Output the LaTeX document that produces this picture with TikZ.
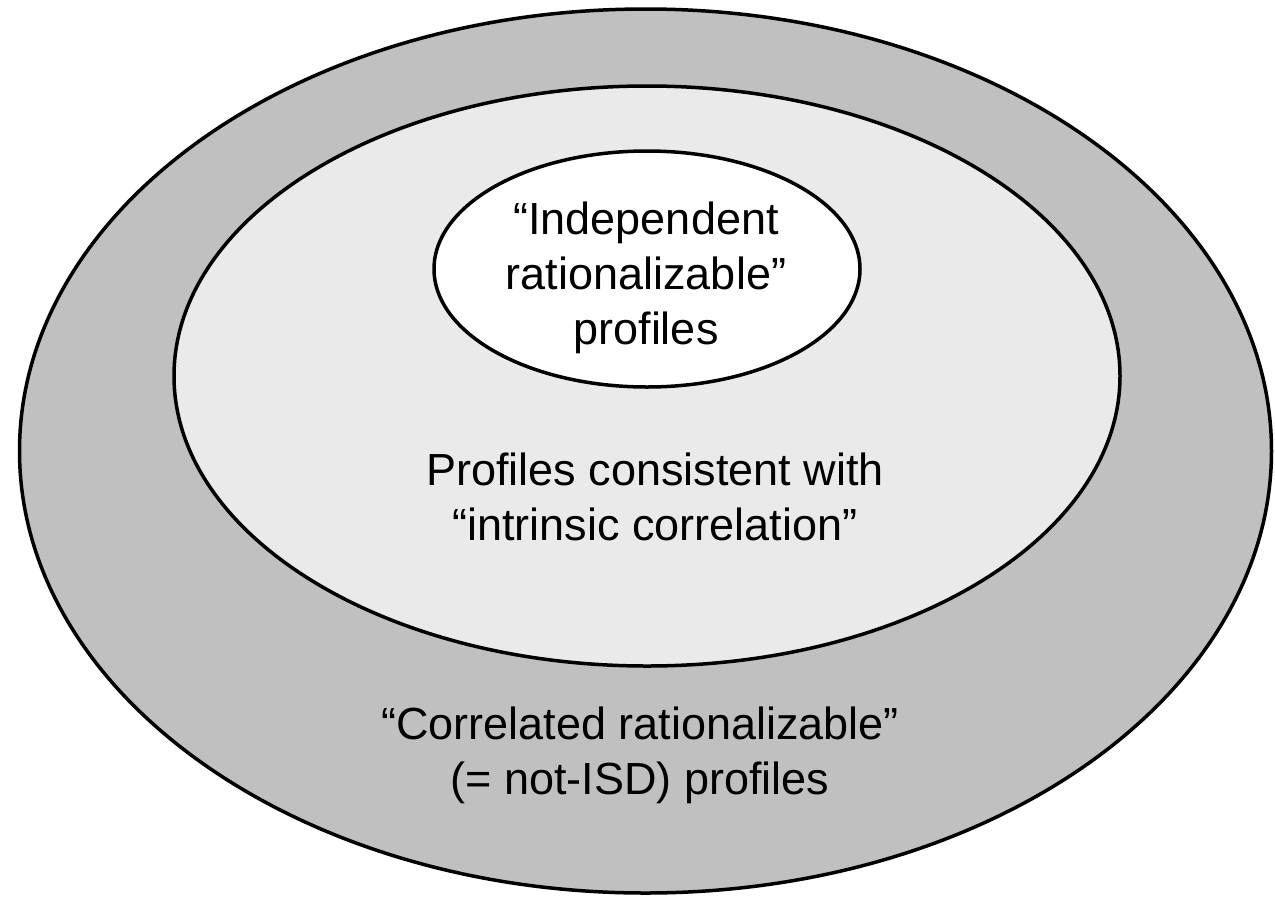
\documentclass[tikz,border=0pt]{standalone}
\usepackage{fontspec}
\setmainfont{Liberation Sans}
\definecolor{outergray}{HTML}{C0C0C0}
\definecolor{midgray}{HTML}{EAEAEA}
\tikzset{
  ring/.style={draw=black, line width=3.5pt},
  lbl/.style={align=center, font=\fontsize{45}{55}\selectfont, inner sep=0pt}
}
\begin{document}
\begin{tikzpicture}[x=1pt,y=-1pt]
\useasboundingbox (0,0) rectangle (1275,898);
\fill[white] (0,0) rectangle (1275,898);
\draw[ring, fill=outergray] (645.5,451) ellipse [x radius=626, y radius=442];
\draw[ring, fill=midgray] (647,376) ellipse [x radius=473, y radius=290];
\draw[ring, fill=white] (647,269) ellipse [x radius=213, y radius=118];
\node[lbl] (inner) at (646,278) {“Independent\\rationalizable”\\profiles};
\node[lbl] (middle) at (655,497) {Profiles consistent with\\“intrinsic correlation”};
\node[lbl] (outer) at (640,755) {“Correlated rationalizable”\\(= not-ISD) profiles};
\end{tikzpicture}
\end{document}
